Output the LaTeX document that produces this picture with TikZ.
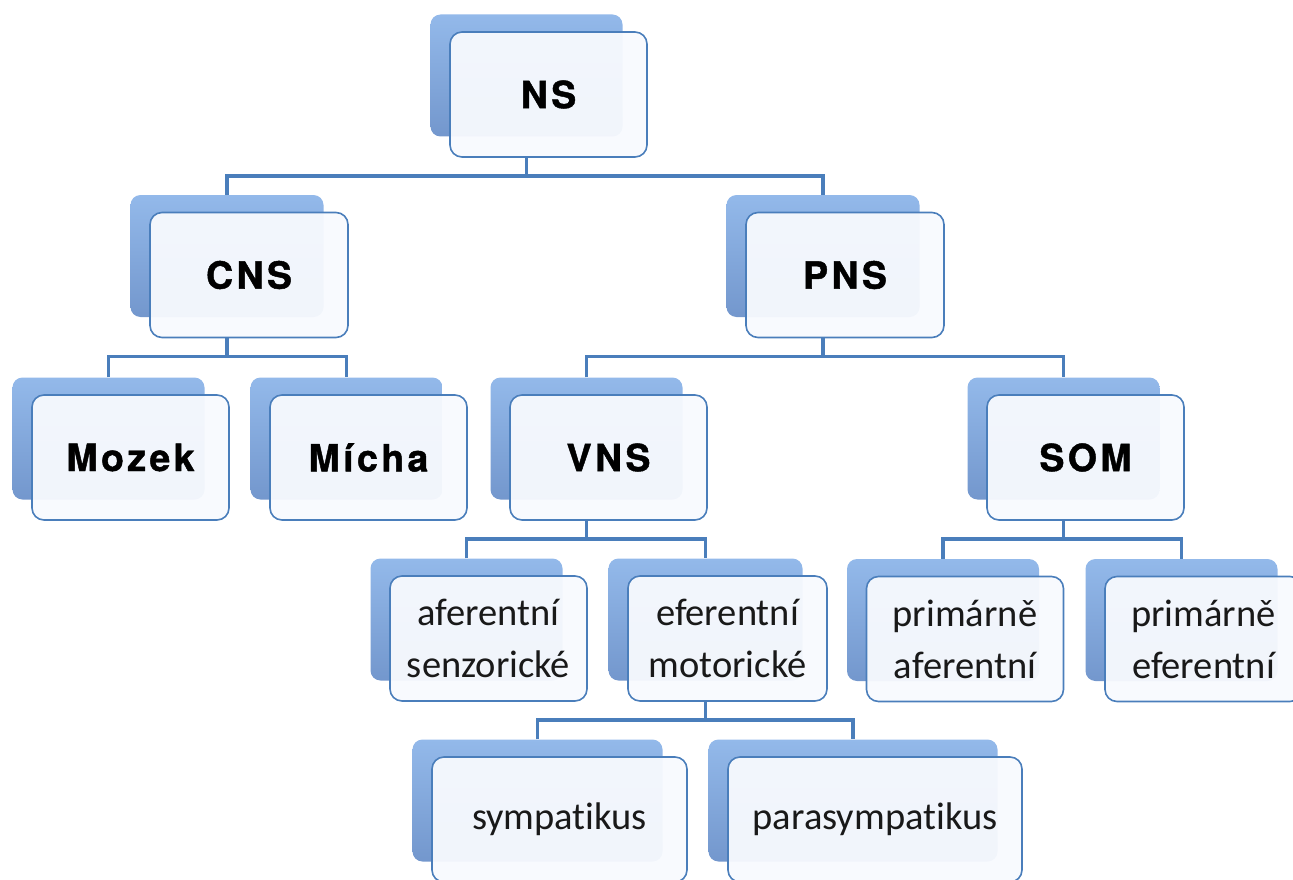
\documentclass[tikz,border=0pt]{standalone}
\usepackage{fontspec}
\setmainfont{Carlito}[Ligatures=NoCommon]
\newfontfamily\headfont[LetterSpace=9,BoldFeatures={FakeBold=1.2}]{TeX Gyre Heros}
\usetikzlibrary{calc}
\definecolor{linkblue}{HTML}{4A7EBB}
\definecolor{backtop}{HTML}{93B9EA}
\definecolor{backbot}{HTML}{7397CD}
\definecolor{frontfill}{HTML}{F8FAFE}

\tikzset{
  backcard/.style={rounded corners=10pt,top color=backtop,bottom color=backbot,
    minimum height=122pt,inner sep=0pt},
  frontcard/.style={rounded corners=12pt,draw=linkblue,line width=1.6pt,fill=frontfill,
    fill opacity=0.95,text opacity=1,minimum height=125pt,inner sep=0pt,align=center},
  headtext/.style={font=\headfont\bfseries\fontsize{37.5}{45}\selectfont},
  bodytext/.style={font=\fontsize{38.5}{52}\selectfont,text=black!90},
  link/.style={draw=linkblue,line width=3.5pt},
}

\begin{document}
\begin{tikzpicture}[x=1pt,y=-1pt]
  \useasboundingbox (0,0) rectangle (1293,880);
  \clip (0,0) rectangle (1293,880);
  % cards: back card first, front card on top
  \foreach \n/\x/\y/\w/\f/\t in {
      ns/548.5/94.5/197/headtext/NS,
      cns/249/275/198/headtext/CNS,
      pns/845/275/198/headtext/PNS,
      mozek/130.5/457.5/197/headtext/Mozek,
      micha/368.5/457.5/197/headtext/Mícha,
      vns/608.5/457.5/197/headtext/VNS,
      som/1085.5/457.5/197/headtext/SOM,
      aff/488.5/638.5/197/bodytext/{aferentní\\senzorické},
      eff/727.5/638.5/199/bodytext/{eferentní\\motorické},
      paff/965/639/197/bodytext/{primárně\\aferentní},
      peff/1203.5/639/197/bodytext/{primárně\\eferentní},
      symp/559.5/819.5/255/bodytext/sympatikus,
      para/875/819.5/294/bodytext/parasympatikus}
  {
    \node[backcard,minimum width={(\w-5)*1pt}] (\n-b) at (\x-22,\y-19) {};
    \node[frontcard,\f,minimum width=\w pt] (\n) at (\x,\y) {\t};
  }
  % connectors
  \foreach \p/\a/\b in {ns/cns/pns,cns/mozek/micha,pns/vns/som,
      vns/aff/eff,som/paff/peff,eff/symp/para}
  {
    \draw[link] (\p-b |- \p.south) -- ++(0,18) coordinate (\p-j);
    \draw[link] (\a-b.north) |- (\p-j) -| (\b-b.north);
  }
\end{tikzpicture}
\end{document}
